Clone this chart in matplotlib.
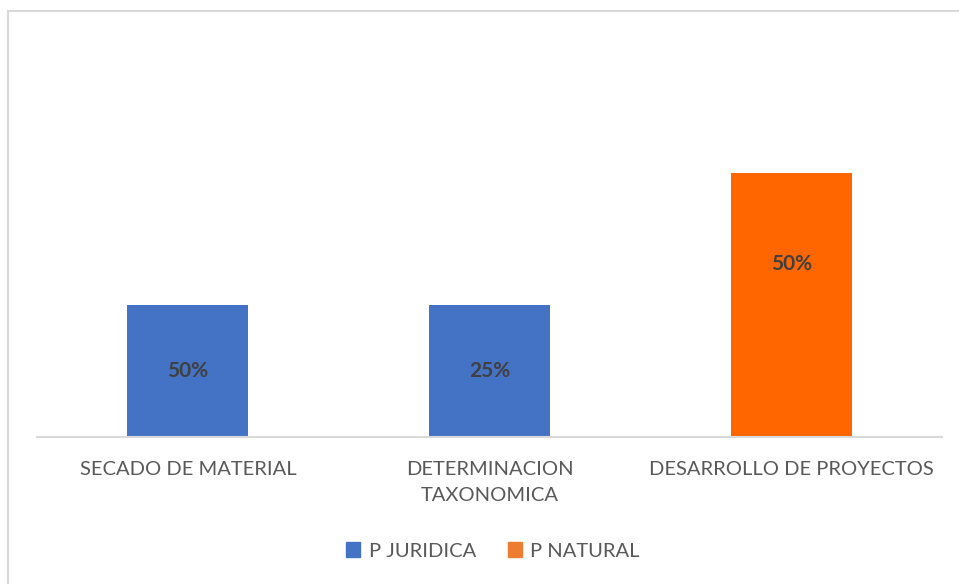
import matplotlib.pyplot as plt
from matplotlib.patches import Rectangle, Patch

plt.rcParams['font.family'] = ['Lato', 'DejaVu Sans']

categories = ['SECADO DE MATERIAL', 'DETERMINACION\nTAXONOMICA', 'DESARROLLO DE PROYECTOS']
series = ['P JURIDICA', 'P JURIDICA', 'P NATURAL']
values = [1, 1, 2]
labels = ['50%', '25%', '50%']

bar_colors = {'P JURIDICA': '#4472C4', 'P NATURAL': '#FF6600'}
legend_colors = {'P JURIDICA': '#4472C4', 'P NATURAL': '#ED7D31'}
text_gray = '#595959'

W, H = 959, 584
fig = plt.figure(figsize=(W / 100, H / 100), dpi=100)

# chart frame (only top and left edges fall inside the image)
fig.patches.append(Rectangle((8 / W, -0.1), 1.2, 1 - 11 / H + 0.1,
                             transform=fig.transFigure, fill=False,
                             edgecolor='#D9D9D9', linewidth=1.5))

ax = fig.add_axes([37 / W, 1 - 437 / H, (942 - 37) / W, 330 / H])
x = list(range(len(categories)))
bars = ax.bar(x, values, width=0.4, color=[bar_colors[s] for s in series])

ax.set_xlim(-0.5, len(categories) - 0.5)
ax.set_ylim(0, 2.5)
for side in ['top', 'right', 'left']:
    ax.spines[side].set_visible(False)
ax.spines['bottom'].set_color('#D9D9D9')
ax.spines['bottom'].set_linewidth(1.5)
ax.set_yticks([])
ax.set_xticks(x)
ax.set_xticklabels(categories, fontsize=14.5, color=text_gray, linespacing=1.7)
ax.tick_params(axis='x', length=0, pad=17)

# value labels inside the bars
label_pos = [0.5, 0.5, 0.655]
for b, lab, p in zip(bars, labels, label_pos):
    ax.text(b.get_x() + b.get_width() / 2, b.get_height() * p, lab,
            ha='center', va='center', fontsize=15, fontweight='bold', color='#404040')

handles = [Patch(color=legend_colors[s]) for s in ['P JURIDICA', 'P NATURAL']]
fig.legend(handles, ['P JURIDICA', 'P NATURAL'], loc='center',
           bbox_to_anchor=(493 / W, 1 - 551 / H), ncol=2, frameon=False,
           fontsize=14.5, labelcolor=text_gray, handlelength=0.7, handleheight=0.7,
           handletextpad=0.4, columnspacing=1.6)

fig.savefig('out.png', dpi=100)
